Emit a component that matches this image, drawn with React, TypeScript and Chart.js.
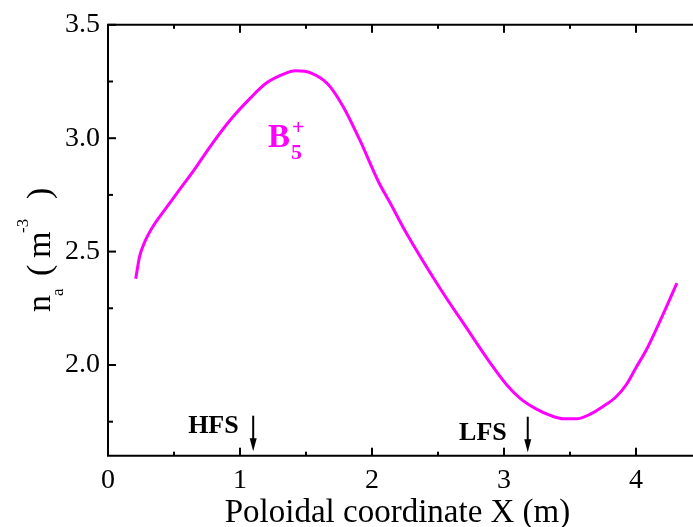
import React, { useEffect, useRef } from "react";
import { Chart, registerables } from "chart.js";
Chart.register(...registerables);

// Poloidal coordinate X (m)
const xValues = [0.21, 0.24, 0.28, 0.34, 0.42, 0.52, 0.65, 0.77, 0.92, 1.08, 1.2, 1.32, 1.42, 1.54, 1.67, 1.78, 1.91, 2.05, 2.14, 2.26, 2.52, 2.72, 2.89, 3.02, 3.12, 3.25, 3.35, 3.45, 3.55, 3.65, 3.75, 3.85, 3.93, 4.0, 4.08, 4.18, 4.31];
// n_a (m^-3)
const yValues = [2.38, 2.48, 2.545, 2.61, 2.676, 2.756, 2.858, 2.96, 3.076, 3.178, 3.243, 3.28, 3.297, 3.287, 3.236, 3.141, 2.989, 2.807, 2.712, 2.582, 2.334, 2.16, 2.014, 1.913, 1.854, 1.804, 1.778, 1.763, 1.763, 1.782, 1.817, 1.86, 1.916, 1.988, 2.068, 2.191, 2.361];

const xTickValues = [0, 1, 2, 3, 4];
const xMinorTickValues = [0.5, 1.5, 2.5, 3.5];
const yTickValues = [2.0, 2.5, 3.0, 3.5];
const yMinorTickValues = [1.75, 2.25, 2.75, 3.25];
const xMin = 0;
const xMax = 4.432;
const yMin = 1.6;
const yMax = 3.5;

const markerLabels = ["HFS", "LFS"];
const markerX = [1.1, 3.18];

const seriesColor = "#FF00FF";
const SERIF = "'Liberation Serif', 'Times New Roman', serif";

const decorPlugin = {
  id: "decor",
  afterDraw(chart: any) {
    const { ctx, chartArea } = chart;
    const { left, right, top, bottom } = chartArea;
    const xs = chart.scales.x;
    const ys = chart.scales.y;
    ctx.save();
    // axes frame (left, bottom, top)
    ctx.strokeStyle = "#000";
    ctx.lineWidth = 2;
    ctx.beginPath();
    ctx.moveTo(left, top);
    ctx.lineTo(left, bottom);
    ctx.lineTo(right, bottom);
    ctx.moveTo(left - 1, top);
    ctx.lineTo(right, top);
    ctx.stroke();
    // ticks inward
    const tick = (x1: number, y1: number, x2: number, y2: number) => {
      ctx.beginPath();
      ctx.moveTo(x1, y1);
      ctx.lineTo(x2, y2);
      ctx.stroke();
    };
    xTickValues.forEach((v) => {
      const px = xs.getPixelForValue(v);
      tick(px, bottom, px, bottom - 8);
      tick(px, top, px, top + 8);
    });
    xMinorTickValues.forEach((v) => {
      const px = xs.getPixelForValue(v);
      tick(px, bottom, px, bottom - 4);
      tick(px, top, px, top + 4);
    });
    yTickValues.forEach((v) => {
      const py = ys.getPixelForValue(v);
      tick(left, py, left + 8, py);
    });
    yMinorTickValues.forEach((v) => {
      const py = ys.getPixelForValue(v);
      tick(left, py, left + 5, py);
    });

    // HFS / LFS markers
    ctx.fillStyle = "#000";
    ctx.font = `bold 26px ${SERIF}`;
    ctx.textAlign = "right";
    ctx.textBaseline = "alphabetic";
    markerLabels.forEach((lab, i) => {
      const px = xs.getPixelForValue(markerX[i]);
      const topY = bottom - 40 + i;
      const tipY = bottom - 4.5 + i;
      const textOffset = i === 0 ? 14.5 : 21;
      ctx.fillText(lab, px - textOffset, bottom - 23 + i * 7);
      ctx.lineWidth = 2;
      ctx.beginPath();
      ctx.moveTo(px, topY);
      ctx.lineTo(px, tipY - 10);
      ctx.stroke();
      ctx.beginPath();
      ctx.moveTo(px - 3.5, tipY - 13);
      ctx.lineTo(px + 3.5, tipY - 13);
      ctx.lineTo(px, tipY);
      ctx.closePath();
      ctx.fill();
    });

    // series label B5+
    const bx = xs.getPixelForValue(1.212);
    const by = ys.getPixelForValue(2.962);
    ctx.fillStyle = seriesColor;
    ctx.textAlign = "left";
    ctx.font = `bold 33px ${SERIF}`;
    ctx.fillText("B", bx, by);
    ctx.font = `bold 22px ${SERIF}`;
    ctx.fillText("+", bx + 24, by - 13);
    ctx.fillText("5", bx + 23, by + 12);

    // x axis title
    ctx.fillStyle = "#000";
    ctx.textAlign = "center";
    ctx.font = `33px ${SERIF}`;
    ctx.fillText("Poloidal coordinate X (m)", 397.5, 522);

    // y axis title (rotated)
    ctx.translate(50, 312);
    ctx.rotate(-Math.PI / 2);
    ctx.textAlign = "left";
    ctx.font = `34px ${SERIF}`;
    ctx.fillText("n", 0, 0);
    ctx.fillText("(", 36, 0);
    ctx.fillText("m", 54, 0);
    ctx.fillText(")", 113, 0);
    ctx.font = `17px ${SERIF}`;
    ctx.fillText("a", 16, 13);
    ctx.fillText("-3", 79, -22);
    ctx.restore();
  },
};

export default function App() {
  const canvasRef = useRef<HTMLCanvasElement | null>(null);
  useEffect(() => {
    if (!canvasRef.current) return;
    const chart = new Chart(canvasRef.current, {
      type: "scatter",
      data: {
        datasets: [
          {
            label: "B5+",
            data: xValues.map((x, i) => ({ x, y: yValues[i] })),
            showLine: true,
            borderColor: seriesColor,
            backgroundColor: seriesColor,
            borderWidth: 3,
            pointRadius: 0,
            cubicInterpolationMode: "monotone",
          },
        ],
      },
      options: {
        animation: false,
        responsive: true,
        maintainAspectRatio: false,
        layout: { padding: { top: 19.5, right: 0, left: 0, bottom: 0 } },
        plugins: { legend: { display: false }, tooltip: { enabled: false } },
        scales: {
          x: {
            type: "linear",
            min: xMin,
            max: xMax,
            grid: { display: false, drawTicks: false },
            border: { display: false },
            afterBuildTicks: (s: any) => {
              s.ticks = xTickValues.map((v) => ({ value: v }));
            },
            afterFit: (s: any) => {
              s.height = 71.3;
            },
            ticks: {
              autoSkip: false,
              maxRotation: 0,
              padding: 8,
              color: "#000",
              font: { family: SERIF, size: 28 },
              callback: (v: any) => String(v),
            },
          },
          y: {
            type: "linear",
            min: yMin,
            max: yMax,
            grid: { display: false, drawTicks: false },
            border: { display: false },
            afterBuildTicks: (s: any) => {
              s.ticks = yTickValues.map((v) => ({ value: v }));
            },
            afterFit: (s: any) => {
              s.width = 108;
            },
            ticks: {
              autoSkip: false,
              padding: 8,
              color: "#000",
              font: { family: SERIF, size: 28 },
              callback: (v: any) => Number(v).toFixed(1),
            },
          },
        },
      },
      plugins: [decorPlugin],
    } as any);
    return () => chart.destroy();
  }, []);
  return (
    <div style={{ position: "absolute", left: 0, top: 0, width: 693, height: 527, background: "#fff" }}>
      <canvas ref={canvasRef} />
    </div>
  );
}
